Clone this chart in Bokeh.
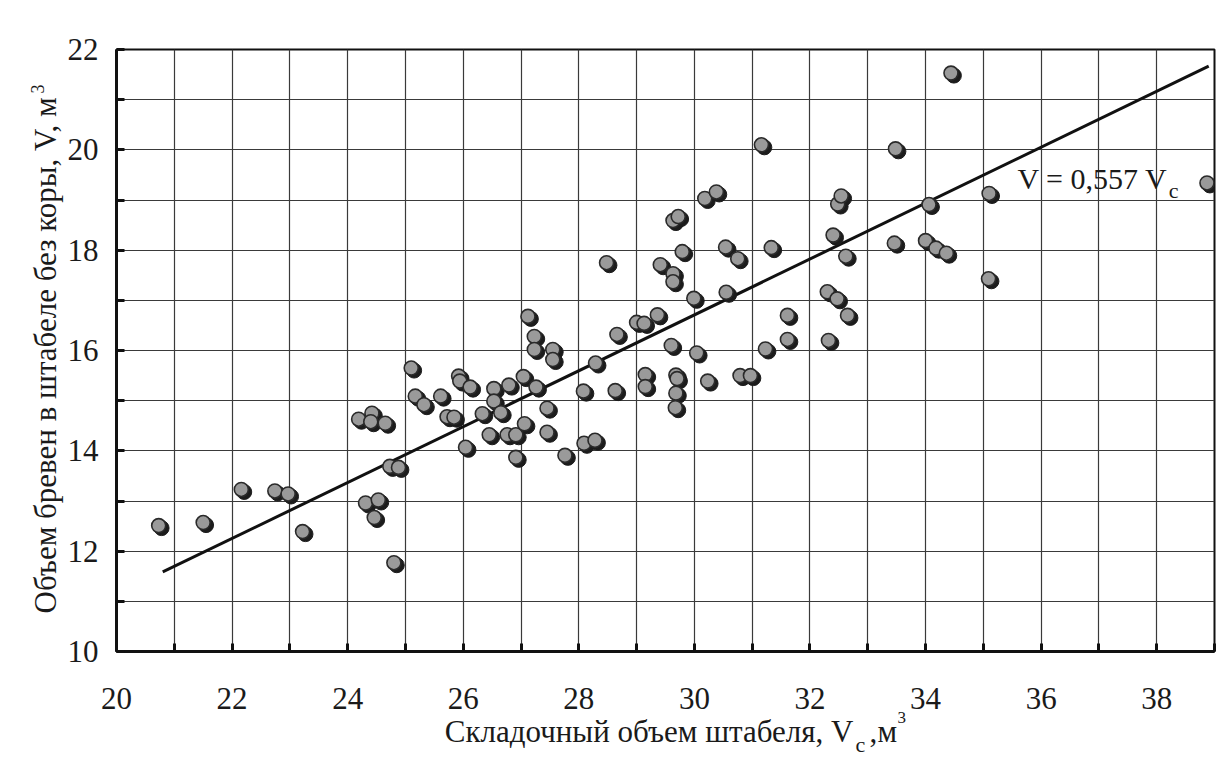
import numpy as np
from bokeh.plotting import figure
from bokeh.layouts import row, column
from bokeh.models import FixedTicker, Label, Range1d, ColumnDataSource
from bokeh.embed import file_html
from bokeh.resources import INLINE

# ---- data ----
stack_volume = [
    20.73, 21.50, 22.16, 22.74, 22.97, 23.22, 24.19, 24.42, 24.40, 24.65,
    24.73, 24.88, 24.31, 24.53, 24.46, 24.80, 25.10, 25.17, 25.32, 25.61,
    25.72, 25.84, 25.92, 25.94, 26.12, 26.04, 26.33, 26.53, 26.53, 26.65,
    26.45, 26.76, 26.91, 26.79, 27.04, 27.26, 27.06, 26.91, 27.45, 27.45,
    27.12, 27.23, 27.23, 27.55, 27.55, 27.76, 28.08, 28.09, 28.28, 28.29,
    28.48, 28.66, 28.63, 29.00, 29.13, 29.36, 29.15, 29.15, 29.41, 29.60,
    29.63, 29.63, 29.63, 29.72, 29.79, 29.68, 29.70, 29.68, 29.67, 29.99,
    30.04, 30.18, 30.38, 30.23, 30.54, 30.75, 30.55, 30.79, 30.97, 31.16,
    31.23, 31.33, 31.61, 31.61, 32.30, 32.47, 32.65, 32.32, 32.40, 32.62,
    32.48, 32.54, 33.48, 33.46, 34.00, 34.06, 34.18, 34.36, 34.44, 35.10,
    35.09, 38.87,
]
log_volume = [
    12.51, 12.57, 13.23, 13.20, 13.14, 12.39, 14.63, 14.75, 14.58, 14.55,
    13.69, 13.67, 12.96, 13.02, 12.67, 11.77, 15.65, 15.09, 14.92, 15.09,
    14.68, 14.67, 15.49, 15.39, 15.27, 14.07, 14.74, 15.24, 14.99, 14.76,
    14.32, 14.32, 14.32, 15.31, 15.48, 15.27, 14.54, 13.87, 14.85, 14.37,
    16.68, 16.28, 16.02, 16.02, 15.82, 13.91, 15.19, 14.15, 14.21, 15.75,
    17.75, 16.32, 15.20, 16.56, 16.54, 16.71, 15.52, 15.28, 17.71, 16.10,
    17.53, 17.37, 18.59, 18.67, 17.97, 15.51, 15.44, 15.15, 14.86, 17.04,
    15.95, 19.03, 19.16, 15.39, 18.06, 17.83, 17.16, 15.50, 15.50, 20.10,
    16.03, 18.05, 16.70, 16.22, 17.17, 17.03, 16.70, 16.20, 18.30, 17.88,
    18.92, 19.08, 20.02, 18.14, 18.19, 18.91, 18.04, 17.94, 21.53, 19.13,
    17.43, 19.34,
]
fit_coef = 0.557
fit_x = [20.8, 38.9]
x_ticks = [20, 22, 24, 26, 28, 30, 32, 34, 36, 38]
x_tick_labels = ["20", "22", "24", "26", "28", "30", "32", "34", "36", "38"]
x_minor = [21, 23, 25, 27, 29, 31, 33, 35, 37, 39]
y_ticks = [10, 12, 14, 16, 18, 20, 22]
y_minor = [11, 13, 15, 17, 19, 21]
x_title = ["Складочный объем штабеля, V", "c", ",", "м", "3"]
y_title = ["Объем бревен в штабеле без коры, V, м", "3"]
equation = ["V = 0,557 V", "c"]

FONT = "Liberation Serif"
INK = "#1a1a1a"
W, H = 1227, 766
LEFT_W = 64            # strip holding the vertical title
MAIN_H = 671           # chart (frame bottom at 651)
BOTTOM_H = H - MAIN_H  # strip holding x tick labels and the x title
MAIN_W = W - LEFT_W
X0, X1 = 20, 39
FRAME_W = 1098
PX = FRAME_W / (X1 - X0)   # pixels per x unit in the chart


def bare(width, height, xr, yr):
    f = figure(width=width, height=height, output_backend="svg", toolbar_location=None,
               x_range=xr, y_range=yr,
               x_axis_type=None, y_axis_type=None, title=None,
               min_border=0, min_border_left=0, min_border_right=0,
               min_border_top=0, min_border_bottom=0)
    f.outline_line_color = None
    f.background_fill_color = "white"
    f.border_fill_color = "white"
    f.grid.visible = False
    try:
        f.frame_align = False
    except Exception:
        pass
    return f


# ---------------- main chart ----------------
p = figure(width=MAIN_W, height=MAIN_H, output_backend="svg", toolbar_location=None,
           x_range=Range1d(X0, X1), y_range=Range1d(10, 22),
           min_border_left=52, min_border_right=13,
           min_border_top=49, min_border_bottom=20)
p.background_fill_color = "white"
p.border_fill_color = "white"
p.outline_line_color = "#111111"
p.outline_line_width = 2

# x axis: every grid position as a (labelless) tick; labels sit in the strip below
p.xaxis.ticker = FixedTicker(ticks=[], minor_ticks=sorted(x_ticks + x_minor))
p.yaxis.ticker = FixedTicker(ticks=y_ticks, minor_ticks=y_minor)
for ax in (p.xaxis, p.yaxis):
    ax.axis_line_color = "#111111"
    ax.axis_line_width = 3
    ax.major_tick_in = 8
    ax.major_tick_out = 0
    ax.minor_tick_in = 8
    ax.minor_tick_out = 0
    ax.major_tick_line_width = 3
    ax.minor_tick_line_width = 3
    ax.major_tick_line_color = "#111111"
    ax.minor_tick_line_color = "#111111"
    ax.major_label_text_font = FONT
    ax.major_label_text_font_size = "31px"
    ax.major_label_text_color = INK

p.xaxis.major_label_standoff = 0
p.yaxis.major_label_standoff = 18

for g in (p.xgrid, p.ygrid):
    g.grid_line_color = "#3a3a3a"
    g.grid_line_width = 1.2
    g.minor_grid_line_color = "#3a3a3a"
    g.minor_grid_line_width = 1.2

fit_y = [fit_coef * xv for xv in fit_x]
p.line(fit_x, fit_y, line_color="#111111", line_width=3)

xs = np.array(stack_volume)
ys = np.array(log_volume)
p.scatter(xs + 0.05, ys - 0.05, size=15, fill_color="#1c1c1c", line_color="#1c1c1c")
p.scatter(xs, ys, size=14, fill_color="#9a9a9a", line_color="#2a2a2a", line_width=1.6)

p.add_layout(Label(x=38.19, y=19.43, text=equation[0], text_font=FONT, text_align="right",
                   text_font_size="30px", text_color=INK, text_baseline="alphabetic"))
p.add_layout(Label(x=38.21, y=19.19, text=equation[1], text_font=FONT,
                   text_font_size="22px", text_color=INK, text_baseline="alphabetic"))

# ---------------- vertical title strip ----------------
left = bare(LEFT_W, H, Range1d(0, LEFT_W), Range1d(0, H))
ysrc = ColumnDataSource(dict(x=[45, 37], y=[153, 673], t=y_title,
                             s=["31px", "18px"]))
left.text(x="x", y="y", text="t", source=ysrc, angle=np.pi / 2,
          text_font=FONT, text_font_size="s", text_color=INK,
          text_baseline="alphabetic", text_align="left")

# ---------------- bottom strip: x tick labels + title, same x scale as chart ----------------
bottom = bare(MAIN_W, BOTTOM_H,
              Range1d(X0 - 52 / PX, X1 + 13 / PX), Range1d(0, BOTTOM_H))
tsrc = ColumnDataSource(dict(x=x_ticks, y=[68.3] * len(x_ticks), t=x_tick_labels))
bottom.text(x="x", y="y", text="t", source=tsrc, text_font=FONT,
            text_font_size="31px", text_color=INK,
            text_baseline="alphabetic", text_align="center")
xsrc = ColumnDataSource(dict(x=[32.753, 32.788, 33.030, 33.169, 33.515],
                             y=[35.3, 22.3, 35.3, 35.3, 48.6],
                             t=x_title, s=["31px", "22px", "31px", "31px", "17px"],
                             a=["right", "left", "left", "left", "left"]))
bottom.text(x="x", y="y", text="t", source=xsrc,
            text_font=FONT, text_font_size="s", text_color=INK,
            text_baseline="alphabetic", text_align="a")

layout = row(left, column(p, bottom, spacing=0), spacing=0)
open("out.html", "w").write(file_html(layout, INLINE))
